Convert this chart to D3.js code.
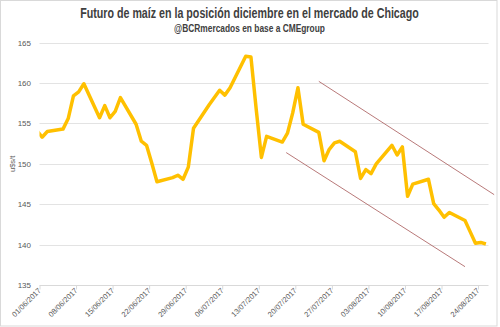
<!DOCTYPE html>
<html>
<head>
<meta charset="utf-8">
<script src="https://cdn.jsdelivr.net/npm/d3@7"></script>
<style>
  html, body { margin: 0; padding: 0; background: #fff; }
  svg { display: block; }
</style>
</head>
<body>
<svg id="chart" width="500" height="327"></svg>
<script>
// Daily settlement of the December corn futures contract (u$s/t)
const dates = [
  "2017-05-31","2017-06-01","2017-06-02","2017-06-05","2017-06-06","2017-06-07","2017-06-08","2017-06-09",
  "2017-06-12","2017-06-13","2017-06-14","2017-06-15","2017-06-16","2017-06-19","2017-06-20","2017-06-21",
  "2017-06-22","2017-06-23","2017-06-26","2017-06-27","2017-06-28","2017-06-29","2017-06-30","2017-07-03",
  "2017-07-05","2017-07-06","2017-07-07","2017-07-10","2017-07-11","2017-07-12","2017-07-13","2017-07-14",
  "2017-07-17","2017-07-18","2017-07-19","2017-07-20","2017-07-21","2017-07-24","2017-07-25","2017-07-26",
  "2017-07-27","2017-07-28","2017-07-31","2017-08-01","2017-08-02","2017-08-03","2017-08-04","2017-08-07",
  "2017-08-08","2017-08-09","2017-08-10","2017-08-11","2017-08-14","2017-08-15","2017-08-16","2017-08-17",
  "2017-08-18","2017-08-21","2017-08-22","2017-08-23","2017-08-24","2017-08-25"
];
const prices = [
  154.1,153.3,154.0,154.3,155.6,158.4,158.9,159.9,
  155.7,157.2,155.7,156.5,158.2,154.9,152.8,152.3,
  150.1,147.8,148.3,148.6,148.1,149.6,154.4,157.3,
  159.1,158.5,159.4,163.3,163.2,156.8,150.8,153.4,
  152.7,153.8,156.3,159.4,154.9,153.9,150.4,151.8,
  152.6,152.8,151.5,148.2,149.3,148.8,150.0,152.3,
  151.1,152.1,146.0,147.5,148.1,145.1,144.3,143.4,
  144.0,143.0,141.6,140.2,140.3,140.1
];

// Weekly tick labels and value axis ticks
const tickDates = ["2017-06-01","2017-06-08","2017-06-15","2017-06-22","2017-06-29","2017-07-06","2017-07-13",
                   "2017-07-20","2017-07-27","2017-08-03","2017-08-10","2017-08-17","2017-08-24"];
const yTicks = [135, 140, 145, 150, 155, 160, 165];

// Downward channel drawn over the second half of the period
const upperChannel = [["2017-07-24T12:00", 160.2], ["2017-08-27T02:00", 146.2]];
const lowerChannel = [["2017-07-18T06:00", 151.4], ["2017-08-21T12:00", 137.3]];

const parse = d3.utcParse("%Y-%m-%d");
const parseT = d3.utcParse("%Y-%m-%dT%H:%M");
const fmt = d3.utcFormat("%d/%m/%Y");
const halfDay = 12 * 3600 * 1000;

const svg = d3.select("#chart");
const W = 500, H = 327;
const plot = { left: 39.5, right: 488.5, top: 42.5, bottom: 285.3 };

const x = d3.scaleUtc()
  .domain([parse("2017-06-01"), parse("2017-08-26")])
  .range([plot.left, plot.right]);
const y = d3.scaleLinear().domain([135, 165]).range([plot.bottom, plot.top]);

// Chart frame
svg.append("rect")
  .attr("x", 0.5).attr("y", 0.5).attr("width", 496.5).attr("height", 325.5)
  .attr("fill", "#fff").attr("stroke", "#d9d9d9").attr("stroke-width", 1);

// Titles: condensed bold text, squeezed horizontally to a target width
function condensedTitle(text, cx, baseline, size, targetWidth) {
  const g = svg.append("g");
  const t = g.append("text")
    .attr("x", 0).attr("y", 0)
    .attr("text-anchor", "middle")
    .attr("font-family", "'Liberation Sans Narrow', 'Arial Narrow', sans-serif")
    .attr("font-weight", "bold").attr("font-size", size)
    .attr("fill", "#404040")
    .text(text);
  const w = t.node().getComputedTextLength();
  const k = Math.min(1, targetWidth / w);
  g.attr("transform", `translate(${cx}, ${baseline}) scale(${k}, 1)`);
}
condensedTitle("Futuro de maíz en la posición diciembre en el mercado de Chicago", 249.5, 18, 14.5, 339);
condensedTitle("@BCRmercados  en base a CMEgroup", 249.5, 31.5, 11, 151);

// Horizontal gridlines
svg.append("g")
  .selectAll("line")
  .data(yTicks.filter(v => v !== 135))
  .join("line")
  .attr("x1", plot.left).attr("x2", plot.right)
  .attr("y1", d => Math.round(y(d)) + 0.5).attr("y2", d => Math.round(y(d)) + 0.5)
  .attr("stroke", "#e3e3e3").attr("stroke-width", 1);

// Value axis labels
svg.append("g")
  .selectAll("text")
  .data(yTicks)
  .join("text")
  .attr("x", 31).attr("y", d => y(d) + 3)
  .attr("text-anchor", "end")
  .attr("font-family", "'Liberation Sans', Arial, sans-serif")
  .attr("font-size", 8).attr("fill", "#595959")
  .text(d => d);

svg.append("text")
  .attr("transform", `translate(14.5, ${y(150)}) rotate(-90)`)
  .attr("text-anchor", "middle")
  .attr("font-family", "'Liberation Sans', Arial, sans-serif")
  .attr("font-size", 7.5).attr("fill", "#595959")
  .text("u$s/t");

// Date axis
const xAxis = d3.axisBottom(x)
  .tickValues(tickDates.map(parse))
  .tickSize(4)
  .tickFormat(fmt);
const gx = svg.append("g")
  .attr("transform", `translate(0, ${Math.round(plot.bottom) + 0.5})`)
  .call(xAxis);
gx.select(".domain").attr("stroke", "#d9d9d9").attr("d", `M${plot.left},0H${plot.right}`);
gx.selectAll(".tick line").attr("stroke", "#d9d9d9");
gx.selectAll(".tick text")
  .attr("font-family", "'Liberation Sans', Arial, sans-serif")
  .attr("font-size", 7.5).attr("fill", "#595959")
  .attr("text-anchor", "end")
  .attr("dy", 0)
  .attr("transform", "translate(1.5, 5.5) rotate(-45)")
  .attr("y", 0).attr("x", 0);

// Price line, clipped to the plot area
svg.append("clipPath").attr("id", "plotClip")
  .append("rect")
  .attr("x", plot.left).attr("y", 0)
  .attr("width", plot.right - plot.left + 2).attr("height", H);

const series = dates.map((d, i) => ({ date: parse(d), value: prices[i] }));
const line = d3.line()
  .x(d => x(new Date(+d.date + halfDay)))
  .y(d => y(d.value));

svg.append("path")
  .datum(series)
  .attr("clip-path", "url(#plotClip)")
  .attr("fill", "none")
  .attr("stroke", "#FFC000")
  .attr("stroke-width", 3.5)
  .attr("stroke-linejoin", "round")
  .attr("d", line);

// Channel lines
const chan = d3.line().x(d => x(parseT(d[0]))).y(d => y(d[1]));
[upperChannel, lowerChannel].forEach(c => {
  svg.append("path")
    .attr("fill", "none")
    .attr("stroke", "#b06a6a")
    .attr("stroke-width", 0.9)
    .attr("d", chan(c));
});
</script>
</body>
</html>
